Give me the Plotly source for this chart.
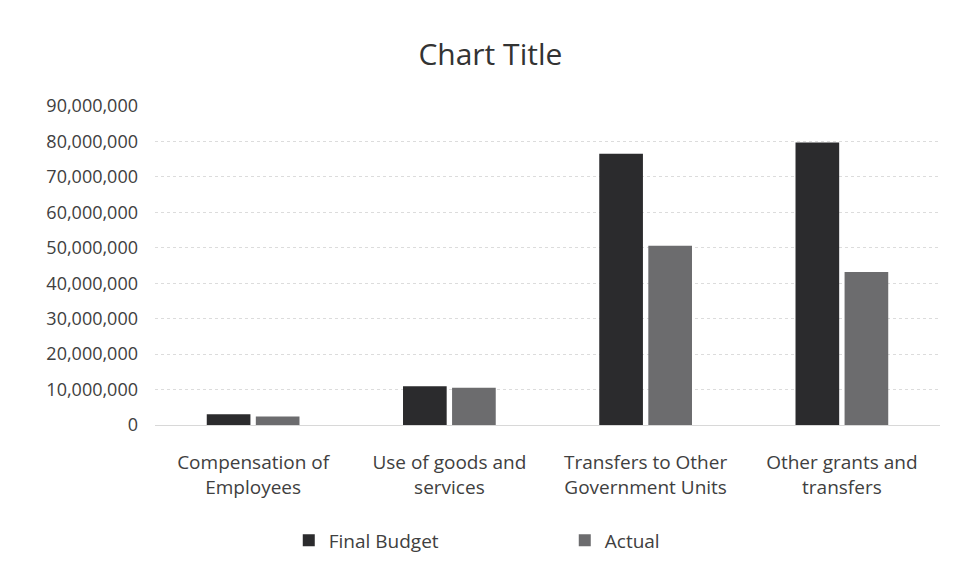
import plotly.graph_objects as go

categories = ["Compensation of<br>Employees", "Use of goods and<br>services",
              "Transfers to Other<br>Government Units", "Other grants and<br>transfers"]
final_budget = [3000000, 10900000, 76500000, 79700000]
actual = [2400000, 10500000, 50600000, 43200000]
y_ticks = list(range(0, 90000001, 10000000))
y_tick_labels = [f"{v:,}" for v in y_ticks]

FONT = "Open Sans"

fig = go.Figure()
fig.add_trace(go.Bar(name="Final Budget", x=categories, y=final_budget,
                     marker=dict(color="#2b2b2d", line=dict(width=0))))
fig.add_trace(go.Bar(name="Actual", x=categories, y=actual,
                     marker=dict(color="#6c6c6e", line=dict(width=0))))

fig.update_layout(
    width=954, height=576,
    paper_bgcolor="white", plot_bgcolor="white",
    margin=dict(l=155, r=14, t=106, b=151),
    font=dict(family=FONT, color="#404040", size=19),
    title=dict(text="Chart Title", x=0.514, xanchor="center", y=0.905, yanchor="middle",
               font=dict(family=FONT, size=30, color="#333333")),
    barmode="group", bargap=0.5, bargroupgap=0.11,
    showlegend=True,
    legend=dict(orientation="h", xref="container", x=0.592, xanchor="center",
                yref="container", y=0.062, yanchor="middle",
                entrywidth=231, entrywidthmode="pixels",
                font=dict(family=FONT, size=19, color="#404040"),
                itemsizing="constant"),
)
fig.update_yaxes(range=[0, 90000000], tickvals=y_ticks, ticktext=y_tick_labels,
                 showgrid=True, gridcolor="#dcdcdc", gridwidth=1, griddash="dot",
                 zeroline=False, showline=False, ticks="", ticklabelstandoff=16,
                 tickfont=dict(family=FONT, size=18, color="#404040"))
fig.update_xaxes(showline=True, linecolor="#d8d8d8", linewidth=1, ticks="",
                 tickfont=dict(family=FONT, size=19, color="#404040"),
                 ticklabelstandoff=20)

fig.write_html("out.html")
